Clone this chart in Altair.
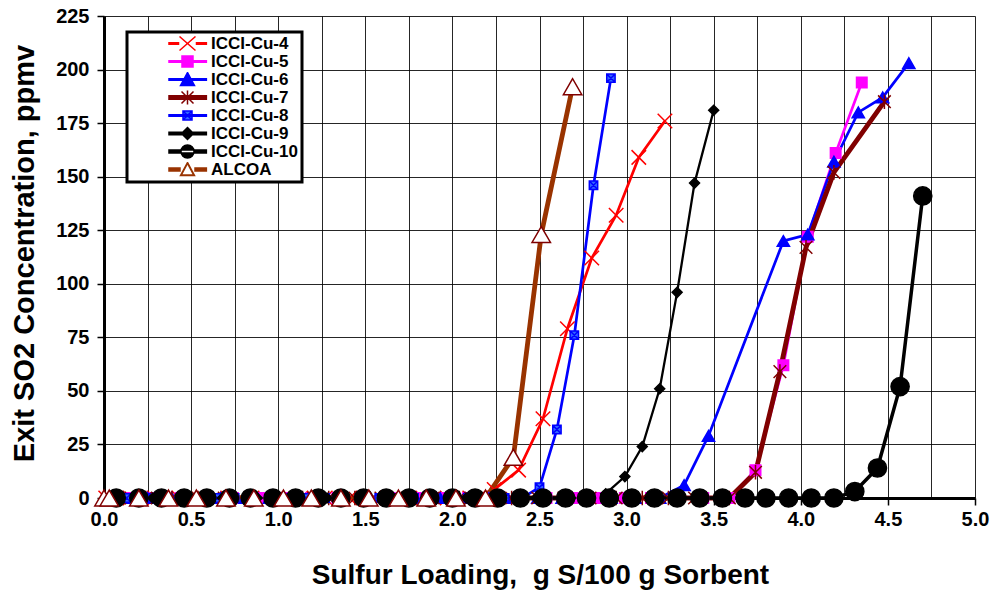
import altair as alt
import pandas as pd

# ---------------- data ----------------
names = ["ICCI-Cu-4", "ICCI-Cu-5", "ICCI-Cu-6", "ICCI-Cu-7",
         "ICCI-Cu-8", "ICCI-Cu-9", "ICCI-Cu-10", "ALCOA"]

cu4_x = [0.01, 0.15, 0.29, 0.43, 0.57, 0.71, 0.85, 0.99, 1.13, 1.27, 1.41, 1.55,
         1.69, 1.83, 1.97, 2.10, 2.24, 2.38, 2.52, 2.66, 2.80, 2.94, 3.07, 3.22]
cu4_y = [0, 0, 0, 0, 0, 0, 0, 0, 0, 0, 0, 0, 0, 0, 0, 0, 4, 13, 37, 79, 112, 132, 159, 176]

cu5_x = [0.14, 0.29, 0.44, 0.59, 0.74, 0.89, 1.04, 1.19, 1.34, 1.49, 1.64, 1.79, 1.94,
         2.09, 2.24, 2.39, 2.54, 2.69, 2.84, 2.99, 3.14, 3.29, 3.44, 3.59,
         3.74, 3.90, 4.04, 4.20, 4.35]
cu5_y = [0, 0, 0, 0, 0, 0, 0, 0, 0, 0, 0, 0, 0, 0, 0, 0, 0, 0, 0, 0, 0, 0, 0, 0,
         13, 62, 122, 161, 194]

cu6_x = [0.11, 0.25, 0.39, 0.53, 0.67, 0.81, 0.95, 1.09, 1.23, 1.37, 1.51, 1.65, 1.79,
         1.93, 2.07, 2.21, 2.35, 2.49, 2.63, 2.77, 2.91, 3.05, 3.19,
         3.33, 3.47, 3.90, 4.04, 4.19, 4.33, 4.47, 4.62]
cu6_y = [0, 0, 0, 0, 0, 0, 0, 0, 0, 0, 0, 0, 0, 0, 0, 0, 0, 0, 0, 0, 0, 0, 0,
         6, 29, 120, 123, 157, 180, 187, 203]

cu7_x = [0.09, 0.24, 0.39, 0.54, 0.69, 0.84, 0.99, 1.14, 1.29, 1.44, 1.59, 1.74, 1.89,
         2.04, 2.19, 2.34, 2.49, 2.64, 2.79, 2.94, 3.09, 3.24, 3.39, 3.59,
         3.74, 3.88, 4.03, 4.19, 4.48]
cu7_y = [0, 0, 0, 0, 0, 0, 0, 0, 0, 0, 0, 0, 0, 0, 0, 0, 0, 0, 0, 0, 0, 0, 0, 0,
         12, 59, 117, 152, 185]

cu8_x = [0.03, 0.13, 0.24, 0.34, 0.44, 0.55, 0.65, 0.75, 0.86, 0.96, 1.06, 1.16, 1.27,
         1.37, 1.47, 1.58, 1.68, 1.78, 1.89, 1.99, 2.09, 2.19, 2.30, 2.40,
         2.50, 2.60, 2.70, 2.81, 2.91]
cu8_y = [0, 0, 0, 0, 0, 0, 0, 0, 0, 0, 0, 0, 0, 0, 0, 0, 0, 0, 0, 0, 0, 0, 0, 0,
         5, 32, 76, 146, 196]

cu9_x = [0.08, 0.28, 0.48, 0.68, 0.88, 1.08, 1.28, 1.48, 1.68, 1.88, 2.08, 2.28, 2.48, 2.68,
         2.88, 2.99, 3.09, 3.19, 3.29, 3.39, 3.50]
cu9_y = [0, 0, 0, 0, 0, 0, 0, 0, 0, 0, 0, 0, 0, 0,
         2, 10, 24, 51, 96, 147, 181]

cu10_x = [0.07, 0.20, 0.33, 0.46, 0.59, 0.72, 0.84, 0.97, 1.10, 1.23, 1.36, 1.49, 1.62,
          1.75, 1.87, 2.00, 2.13, 2.26, 2.39, 2.52, 2.65, 2.77, 2.90, 3.03, 3.16,
          3.29, 3.42, 3.55, 3.68, 3.80, 3.93, 4.06, 4.19, 4.31, 4.44, 4.57, 4.70]
cu10_y = [0, 0, 0, 0, 0, 0, 0, 0, 0, 0, 0, 0, 0, 0, 0, 0, 0, 0, 0, 0, 0, 0, 0, 0, 0,
          0, 0, 0, 0, 0, 0, 0, 0, 3, 14, 52, 141]

alcoa_x = [0.00, 0.03, 0.20, 0.37, 0.53, 0.70, 0.86, 1.03, 1.19, 1.36, 1.52, 1.69, 1.85,
           2.02, 2.19, 2.35, 2.51, 2.69]
alcoa_y = [0, 0, 0, 0, 0, 0, 0, 0, 0, 0, 0, 0, 0, 0, 0, 19, 123, 192]

xs = [cu4_x, cu5_x, cu6_x, cu7_x, cu8_x, cu9_x, cu10_x, alcoa_x]
ys = [cu4_y, cu5_y, cu6_y, cu7_y, cu8_y, cu9_y, cu10_y, alcoa_y]

x_ticks = [0.0, 0.25, 0.5, 0.75, 1.0, 1.25, 1.5, 1.75, 2.0, 2.25, 2.5, 2.75, 3.0,
           3.25, 3.5, 3.75, 4.0, 4.25, 4.5, 4.75, 5.0]
y_ticks = [0, 25, 50, 75, 100, 125, 150, 175, 200, 225]

x_title = "Sulfur Loading,\u00a0 g S/100 g Sorbent"
y_title = "Exit SO2 Concentration, ppmv"

rows = []
for i, (n, xv, yv) in enumerate(zip(names, xs, ys)):
    for j, (a, b) in enumerate(zip(xv, yv)):
        rows.append({"series": n, "x": a, "y": b, "k": i * 1000 + j})
df = pd.DataFrame(rows)

# ---------------- styles ----------------
FONT = "Liberation Sans"
line_colors = ["#FF0000", "#FF00FF", "#0000FF", "#800000", "#0000FF", "#000000", "#000000", "#993300"]
line_widths = [2.7, 2.7, 2.7, 4.8, 2.7, 2.3, 3.5, 4.8]

X_PATH = "M-1,-1L1,1M-1,1L1,-1"
AST_PATH = "M-1,-1L1,1M-1,1L1,-1M0,-1.15L0,1.15"
BOXX_PATH = "M-1,-1H1V1H-1Z M-1,-1L1,1M-1,1L1,-1"
pt_shapes = [X_PATH, "square", "triangle-up", AST_PATH, BOXX_PATH, "diamond", "circle", "triangle-up"]
pt_fill = ["#FF0000", "#FF00FF", "#0000FF", "#800000", "#3366FF", "#000000", "#000000", "#FFFFFF"]
pt_stroke = ["#FF0000", "#FF00FF", "#0000FF", "#800000", "#0000FF", "#000000", "#000000", "#800000"]
pt_size = [210, 110, 150, 160, 70, 100, 330, 340]

# legend symbols: line + marker combined in one path
R = 37.0          # px per path unit (sqrt(size)/2)
SYM_SIZE = (2 * R) ** 2
C = 0.5           # marker centre (units)
L1 = 1.01         # line end (units)


def f(v):
    return f"{v:.3f}"


def rect(x0, x1, thick):
    h = max(thick - 1.5, 0.2) / 2 / R
    return f"M{f(x0)},{f(-h)}H{f(x1)}V{f(h)}H{f(x0)}Z"


def p(px):
    return px / R


def x_mark(hw, hh):
    return (f"M{f(C - p(hw))},{f(-p(hh))}L{f(C + p(hw))},{f(p(hh))}"
            f"M{f(C - p(hw))},{f(p(hh))}L{f(C + p(hw))},{f(-p(hh))}")


def square(s):
    return f"M{f(C - p(s))},{f(-p(s))}H{f(C + p(s))}V{f(p(s))}H{f(C - p(s))}Z"


def tri(hw, top, bot, rev=False):
    if rev:
        return f"M{f(C)},{f(-p(top))}L{f(C + p(hw))},{f(p(bot))}L{f(C - p(hw))},{f(p(bot))}Z"
    return f"M{f(C)},{f(-p(top))}L{f(C - p(hw))},{f(p(bot))}L{f(C + p(hw))},{f(p(bot))}Z"


def diamond(s):
    return f"M{f(C - p(s))},0L{f(C)},{f(-p(s))}L{f(C + p(s))},0L{f(C)},{f(p(s))}Z"


def circle(r):
    return (f"M{f(C - p(r))},0A{f(p(r))},{f(p(r))} 0 1,0 {f(C + p(r))},0"
            f"A{f(p(r))},{f(p(r))} 0 1,0 {f(C - p(r))},0Z")


leg_shapes = [
    rect(0, C - p(9), 3) + rect(C + p(9), L1, 3) + x_mark(8, 7),
    rect(0, L1, 3) + square(5.5),
    rect(0, L1, 3) + tri(7, 7, 6),
    rect(0, L1, 5) + x_mark(6, 6) + f"M{f(C)},{f(-p(7))}L{f(C)},{f(p(7))}",
    rect(0, L1, 3) + square(4.5) + x_mark(4.5, 4.5),
    rect(0, L1, 4) + diamond(6),
    rect(0, L1, 4.5) + circle(6.5),
    rect(0, C - p(7.5), 4.5) + rect(C + p(7.5), L1, 4.5) + tri(7, 7, 6) + tri(6.3, 6.2, 5.6, rev=True),
]
leg_fill = ["#FF0000", "#FF00FF", "#0000FF", "#800000", "#3366FF", "#000000", "#000000", "#993300"]
leg_stroke = ["#FF0000", "#FF00FF", "#0000FF", "#800000", "#0000FF", "#000000", "#000000", "#993300"]

# ---------------- chart ----------------
x_axis = alt.Axis(
    values=x_ticks,
    labelExpr="(round(datum.value*4) % 2 == 0) ? format(datum.value, '.1f') : ''",
    labelOverlap=False, labelFlush=False,
    tickSize=7, tickWidth=1.5, tickColor="#000000",
    tickOpacity={"condition": {"test": "round(datum.value*4) % 2 == 1", "value": 0}, "value": 1},
    grid=True, gridColor="#000000", gridWidth=1, gridOpacity=0.85,
    domainColor="#000000", domainWidth=3,
    labelFont=FONT, labelFontSize=20, labelFontWeight="bold", labelColor="#000000", labelPadding=4,
    title=x_title,
    titleFont=FONT, titleFontSize=28, titleFontWeight="bold", titleColor="#000000",
    titleX=436, titleY=77, titleBaseline="middle", titleAnchor="middle",
)
y_axis = alt.Axis(
    values=y_ticks, labelFlush=False, labelOverlap=False,
    tickSize=7, tickWidth=1.5, tickColor="#000000",
    grid=True, gridColor="#000000", gridWidth=1, gridOpacity=0.85,
    domainColor="#000000", domainWidth=3,
    labelFont=FONT, labelFontSize=20, labelFontWeight="bold", labelColor="#000000", labelPadding=8,
    title=y_title,
    titleFont=FONT, titleFontSize=29, titleFontWeight="bold", titleColor="#000000",
    titleX=-80, titleY=237, titleAngle=270, titleBaseline="middle", titleAnchor="middle",
)

xs_enc = alt.X("x:Q", scale=alt.Scale(domain=[0, 5], nice=False), axis=x_axis)
ys_enc = alt.Y("y:Q", scale=alt.Scale(domain=[0, 225], nice=False), axis=y_axis)

base = alt.Chart(df)

lines = base.mark_line(clip=False).encode(
    x=xs_enc, y=ys_enc,
    color=alt.Color("series:N", scale=alt.Scale(domain=names, range=line_colors), legend=None),
    strokeWidth=alt.StrokeWidth("series:N",
                                scale=alt.Scale(type="ordinal", domain=names, range=line_widths),
                                legend=None),
    detail="series:N",
)

points = base.mark_point(filled=True, strokeWidth=1.5, opacity=1, clip=False).encode(
    x=xs_enc, y=ys_enc,
    shape=alt.Shape("series:N", scale=alt.Scale(domain=names, range=pt_shapes), legend=None),
    fill=alt.Fill("series:N", scale=alt.Scale(domain=names, range=pt_fill), legend=None),
    stroke=alt.Stroke("series:N", scale=alt.Scale(domain=names, range=pt_stroke), legend=None),
    size=alt.Size("series:N", scale=alt.Scale(type="ordinal", domain=names, range=pt_size), legend=None),
    order=alt.Order("k:Q"),
)

leg = alt.Legend(
    orient="none", legendX=23, legendY=16, title=None,
    symbolSize=SYM_SIZE, symbolStrokeWidth=1.5, symbolOpacity=1,
    clipHeight=15, rowPadding=0, padding=4, labelOffset=4,
    labelFont=FONT, labelFontSize=17, labelFontWeight="bold", labelColor="#000000",
    labelLimit=0,
    strokeColor="#000000", fillColor="#FFFFFF",
)

legend_layer = alt.Chart(pd.DataFrame({"series": names})).transform_filter("false").mark_point(
    filled=True, opacity=1
).encode(
    shape=alt.Shape("series:N", scale=alt.Scale(domain=names, range=leg_shapes), legend=leg),
    fill=alt.Fill("series:N", scale=alt.Scale(domain=names, range=leg_fill), legend=leg),
    stroke=alt.Stroke("series:N", scale=alt.Scale(domain=names, range=leg_stroke), legend=leg),
)

chart = alt.layer(lines, points, legend_layer).resolve_scale(
    shape="independent", fill="independent", stroke="independent",
    size="independent", color="independent", strokeWidth="independent",
).properties(
    width=871, height=482,
    autosize=alt.AutoSizeParams(type="none"),
    padding={"left": 104, "top": 16, "right": 22, "bottom": 96},
    background="#FFFFFF",
).configure_view(stroke=None).configure_legend(strokeWidth=3)

chart.save("out.html", embed_options={"renderer": "svg", "actions": False})
